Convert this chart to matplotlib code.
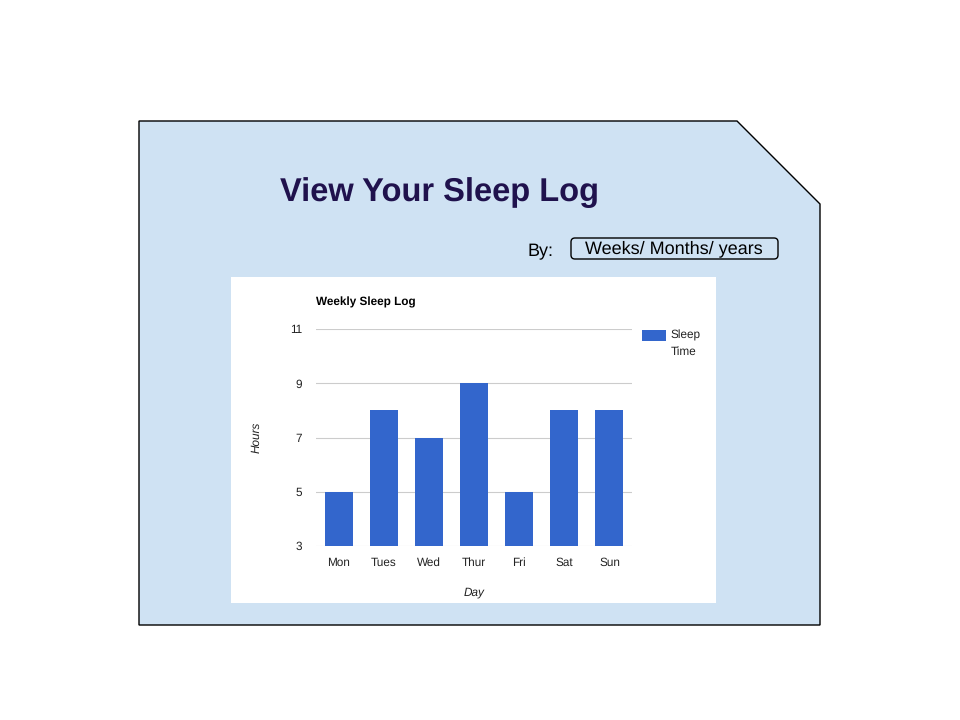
import matplotlib.pyplot as plt
from matplotlib.patches import Polygon, Rectangle, FancyBboxPatch

plt.rcParams['font.family'] = ['Liberation Sans', 'DejaVu Sans']
plt.rcParams['text.hinting'] = 'no_hinting'

days = ['Mon', 'Tues', 'Wed', 'Thur', 'Fri', 'Sat', 'Sun']
hours = [5, 8, 7, 9, 5, 8, 8]
y_ticks = [3, 5, 7, 9, 11]

fig = plt.figure(figsize=(9.6, 7.2), dpi=100)

# background page in pixel coordinates
bg = fig.add_axes([0, 0, 1, 1])
bg.set_xlim(0, 960)
bg.set_ylim(720, 0)
bg.axis('off')

outer = Polygon([(139, 121), (737, 121), (820, 204), (820, 625), (139, 625)],
                closed=True, facecolor='#cfe2f3', edgecolor='black', linewidth=1)
bg.add_patch(outer)
bg.add_patch(Rectangle((231, 277), 485, 326, facecolor='white', edgecolor='none'))
bg.add_patch(FancyBboxPatch((571, 238), 207, 21, boxstyle='round,pad=0,rounding_size=4',
                            facecolor='none', edgecolor='black', linewidth=1))

bg.text(440, 193, 'View Your Sleep Log', fontsize=23.5, fontweight='bold',
        color='#20124d', ha='center', va='center')
bg.text(528, 252, 'By:', fontsize=13, ha='left', va='center')
bg.text(674, 249, 'Weeks/ Months/ years', fontsize=13, ha='center', va='center')

# the chart
ax = fig.add_axes([316 / 960, 1 - 546 / 720, 316 / 960, 217 / 720])
ax.bar(range(len(days)), hours, width=0.62, color='#3366cc', zorder=2,
       label='Sleep\nTime')
ax.set_xlim(-0.5, len(days) - 0.5)
ax.set_ylim(3, 11)
ax.set_yticks(y_ticks)
ax.set_xticks(range(len(days)))
ax.set_xticklabels(days)
ax.grid(axis='y', color='#cccccc', linewidth=0.8, zorder=0)
for s in ax.spines.values():
    s.set_visible(False)
ax.tick_params(length=0, labelsize=8.5, colors='#222222', pad=8)
ax.tick_params(axis='y', pad=10)
ax.set_xlabel('Day', fontsize=8.5, fontstyle='italic', labelpad=13, color='#222222')
ax.set_ylabel('Hours', fontsize=8.5, fontstyle='italic', labelpad=20, color='#222222')
ax.set_title('Weekly Sleep Log', fontsize=8.5, fontweight='bold', loc='left', pad=17)

leg = ax.legend(loc='upper left', bbox_to_anchor=(642 / 960, 1 - 330 / 720),
                bbox_transform=fig.transFigure, frameon=False, fontsize=8.5,
                handlelength=2.0, handleheight=1.0, handletextpad=0.4, borderpad=0,
                labelcolor='#222222', borderaxespad=0)
for t in leg.get_texts():
    t.set_linespacing(1.6)
# keep the swatch level with the first line, as in the original
for h in leg.legend_handles:
    h.set_y(h.get_y() + 6)

fig.savefig('out.png', dpi=100)
